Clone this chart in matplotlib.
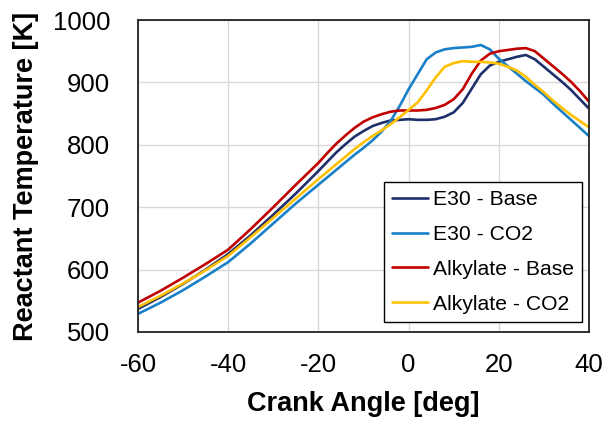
import matplotlib
matplotlib.use("Agg")
import matplotlib.pyplot as plt

plt.rcParams['font.family'] = ['Liberation Sans', 'DejaVu Sans']
plt.rcParams['axes.unicode_minus'] = False

crank_angle = [-60, -55, -50, -45, -40, -35, -30, -25, -20, -18, -16, -14, -12, -10,
               -8, -6, -4, -2, 0, 2, 4, 6, 8, 10, 12, 14, 16, 18, 20, 22, 24, 26,
               28, 30, 32, 34, 36, 38, 40]

e30_base = [537, 556, 577, 600, 625, 655, 688, 722, 758, 773, 788, 801, 813, 822,
            830, 835, 839, 840, 841, 840, 840, 841, 845, 852, 867, 890, 913, 927,
            933, 937, 941, 944, 937, 925, 913, 901, 888, 873, 858]

e30_co2 = [529, 547, 567, 589, 612, 642, 674, 706, 736, 748, 760, 772, 784, 795,
           807, 821, 838, 862, 889, 913, 937, 948, 953, 955, 956, 957, 960, 953,
           938, 926, 914, 902, 891, 880, 866, 853, 840, 827, 814]

alk_base = [547, 566, 587, 609, 632, 665, 700, 736, 771, 787, 802, 815, 827, 837,
            844, 849, 853, 855, 855, 855, 856, 859, 864, 873, 889, 914, 935, 946,
            950, 952, 954, 955, 950, 938, 926, 914, 901, 886, 869]

alk_co2 = [540, 558, 578, 599, 622, 652, 683, 714, 745, 757, 769, 781, 793, 804,
           814, 823, 833, 844, 856, 868, 887, 908, 925, 931, 934, 933, 933, 932,
           930, 925, 919, 909, 896, 884, 871, 859, 848, 838, 828]

series = [
    ("E30 - Base", e30_base, "#1F2F6B"),
    ("E30 - CO2", e30_co2, "#1A80C8"),
    ("Alkylate - Base", alk_base, "#C00000"),
    ("Alkylate - CO2", alk_co2, "#FFC000"),
]

x_ticks = [-60, -40, -20, 0, 20, 40]
y_ticks = [500, 600, 700, 800, 900, 1000]

fig = plt.figure(figsize=(6.1, 4.24), dpi=100)
ax = fig.add_axes([0.2262, 0.217, 0.7394, 0.7358])

for label, vals, color in series:
    ax.plot(crank_angle, vals, color=color, lw=1.9, label=label,
            solid_capstyle='round', solid_joinstyle='round')

ax.set_xlim(-60, 40)
ax.set_ylim(500, 1000)
ax.set_xticks(x_ticks)
ax.set_yticks(y_ticks)
ax.grid(True, color="#D9D9D9", lw=1.0)
ax.set_axisbelow(True)
for s in ax.spines.values():
    s.set_color("#222222")
    s.set_linewidth(1.3)
ax.tick_params(length=0, labelsize=18.5, colors="#000000")
ax.tick_params(axis='x', pad=15)
ax.tick_params(axis='y', pad=20)

ax.set_xlabel("Crank Angle [deg]", fontsize=19.5, fontweight='bold', labelpad=10)
ax.set_ylabel("Reactant Temperature [K]", fontsize=19.5, fontweight='bold', labelpad=10)

leg = ax.legend(loc='lower right', bbox_to_anchor=(582 / 610, 1 - 322 / 424),
                bbox_transform=fig.transFigure, borderaxespad=0,
                fontsize=15.2, frameon=True, fancybox=False,
                edgecolor="#000000", framealpha=1, handlelength=1.7,
                handletextpad=0.2, borderpad=0.4, labelspacing=0.75)
leg.get_frame().set_linewidth(1.0)

fig.savefig("out.png", dpi=100)
